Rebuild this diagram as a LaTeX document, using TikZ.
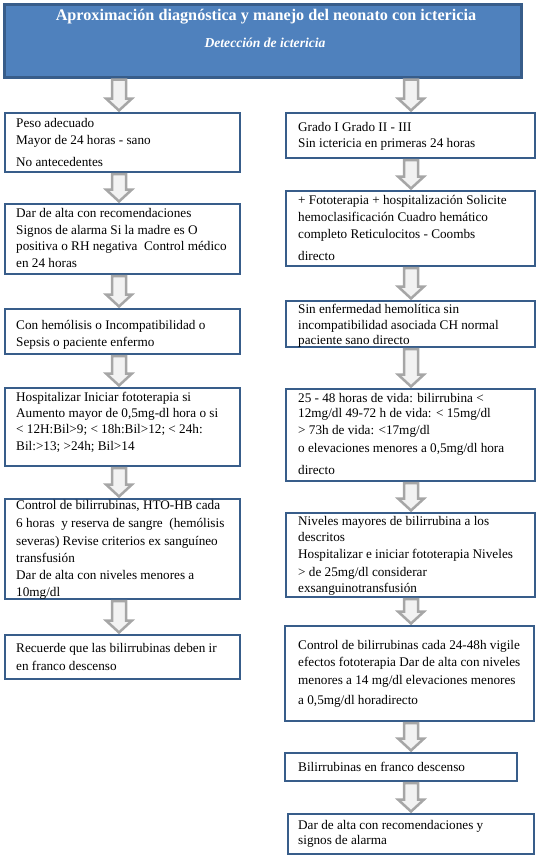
\documentclass[tikz,border=0pt]{standalone}
\usepackage{fontspec}
\setmainfont{Liberation Serif}
\usetikzlibrary{calc}
\definecolor{hdrfill}{RGB}{79,129,189}
\definecolor{bordblue}{RGB}{56,93,138}
\definecolor{arrgray}{RGB}{166,166,166}
\definecolor{arrfill}{RGB}{242,242,242}
\tikzset{
  box/.style={draw=bordblue, line width=2.5pt, fill=white, inner sep=0pt, outer sep=0pt, anchor=north west},
  hdrbox/.style={draw=bordblue, line width=3pt, fill=hdrfill, inner sep=0pt, outer sep=0pt, anchor=north west},
  txt/.style={inner sep=0pt, align=left, anchor=north west, font=\fontsize{13.2}{17}\selectfont},
  ttl/.style={inner sep=0pt, text=white, font=\fontsize{16.2}{18}\selectfont\bfseries},
  subttl/.style={inner sep=0pt, text=white, font=\fontsize{13.6}{15}\selectfont\bfseries\itshape},
  barrow/.style={draw=arrgray, line width=2.5pt, fill=arrfill, line join=miter},
}
\newcommand\mkbox[6][box]{\node[#1, minimum width={#5-#3}, minimum height={#6-#4}] (#2) at (#3,#4) {};}
\newcommand\mkarrow[3]{%
  \draw[barrow] let \p1=(#1.south), \p2=(#2.north) in
    ({#3pt-7pt},{\y1-2pt}) -- ({#3pt+7pt},{\y1-2pt}) -- ({#3pt+7pt},{\y2+14.5pt}) --
    ({#3pt+13pt},{\y2+14.5pt}) -- ({#3pt},{\y2+2.5pt}) -- ({#3pt-13pt},{\y2+14.5pt}) --
    ({#3pt-7pt},{\y2+14.5pt}) -- cycle;}
\begin{document}
\begin{tikzpicture}[x=1pt,y=-1pt]
\useasboundingbox (0,0) rectangle (538,857);
% header
\mkbox[hdrbox]{hdr}{4.5}{4.5}{521.5}{77.5}
\node[ttl] (ttltext) at (266,17) {Aproximación diagnóstica y manejo del neonato con ictericia};
\node[subttl] (subtext) at (265,43) {Detección de ictericia};
% left column
\mkbox{L1}{5}{113}{240}{172}
\mkbox{L2}{5}{204}{240}{274}
\mkbox{L3}{5}{309}{240}{354}
\mkbox{L4}{5}{388}{240}{466}
\mkbox{L5}{5}{499}{240}{599}
\mkbox{L6}{5}{635}{240}{679}
% right column
\mkbox{R1}{286}{113}{535}{158}
\mkbox{R2}{286}{191}{535}{266}
\mkbox{R3}{286}{301}{535}{347}
\mkbox{R4}{286}{389}{535}{481}
\mkbox{R5}{286}{513}{535}{597}
\mkbox{R6}{285}{626}{534}{721}
\mkbox{R7}{285}{753}{517}{781}
\mkbox{R8}{288}{814}{534}{854}
% texts
\node[txt] (L1t) at (16,118) {Peso adecuado\\ Mayor de 24 horas - sano\\[5pt] No antecedentes};
\node[txt] (L2t) at (16,208) {Dar de alta con recomendaciones\\ Signos de alarma Si la madre es O\\[-1pt] positiva o RH negativa\ \ Control médico\\ en 24 horas};
\node[txt] (L3t) at (16,320) {Con hemólisis o Incompatibilidad o\\ Sepsis o paciente enfermo};
\node[txt] (L4t) at (16,392) {Hospitalizar Iniciar fototerapia si\\[-1pt] Aumento mayor de 0,5mg-dl hora o si\\[-1pt] < 12H:Bil>9; < 18h:Bil>12; < 24h:\\ Bil:>13; >24h; Bil>14};
\node[txt] (L5t) at (16,500) {Control de bilirrubinas, HTO-HB cada\\[1pt] 6 horas\ \ y reserva de sangre\ \ (hemólisis\\[1pt] severas) Revise criterios ex sanguíneo\\ transfusión\\ Dar de alta con niveles menores a\\ 10mg/dl};
\node[txt] (L6t) at (16,643) {Recuerde que las bilirrubinas deben ir\\[1pt] en franco descenso};
\node[txt] (R1t) at (298,122) {Grado I Grado II - III\\[-1pt] Sin ictericia en primeras 24 horas};
\node[txt] (R2t) at (298,195) {+ Fototerapia + hospitalización Solicite\\ hemoclasificación Cuadro hemático\\ completo Reticulocitos - Coombs\\[5pt] directo};
\node[txt] (R3t) at (298,304) {Sin enfermedad hemolítica sin\\[-1pt] incompatibilidad asociada CH normal\\[-2pt] paciente sano directo};
\node[txt] (R4t) at (298,393) {25 - 48 horas de vida: bilirrubina <\\[-2pt] 12mg/dl 49-72 h de vida: < 15mg/dl\\ > 73h de vida: <17mg/dl\\[1pt] o elevaciones menores a 0,5mg/dl hora\\[5pt] directo};
\node[txt] (R5t) at (298,516) {Niveles mayores de bilirrubina a los\\[-1pt] descritos\\ Hospitalizar e iniciar fototerapia Niveles\\[1pt] > de 25mg/dl considerar\\[-1pt] exsanguinotransfusión};
\node[txt] (R6t) at (298,640) {Control de bilirrubinas cada 24-48h vigile\\ efectos fototerapia Dar de alta con niveles\\[1pt] menores a 14 mg/dl elevaciones menores\\[3pt] a 0,5mg/dl horadirecto};
\node[txt] (R7t) at (298,762) {Bilirrubinas en franco descenso};
\node[txt] (R8t) at (298,820) {Dar de alta con recomendaciones y\\[-2pt] signos de alarma};
% arrows
\mkarrow{hdr}{L1}{119}
\mkarrow{L1}{L2}{119}
\mkarrow{L2}{L3}{119}
\mkarrow{L3}{L4}{119}
\mkarrow{L4}{L5}{119}
\mkarrow{L5}{L6}{119}
\mkarrow{hdr}{R1}{411}
\mkarrow{R1}{R2}{411}
\mkarrow{R2}{R3}{411}
\mkarrow{R3}{R4}{411}
\mkarrow{R4}{R5}{411}
\mkarrow{R5}{R6}{411}
\mkarrow{R6}{R7}{411}
\mkarrow{R7}{R8}{411}
\end{tikzpicture}
\end{document}
